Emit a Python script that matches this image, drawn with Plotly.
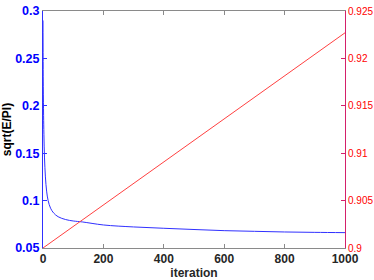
import plotly.graph_objects as go

# values
iters_blue = [0, 1, 2, 3, 5, 8, 12, 17, 25, 35, 50, 75, 100, 130, 200, 300,
              400, 500, 600, 700, 800, 900, 1000]
sqrt_e_pi = [0.29, 0.22, 0.19, 0.17, 0.145, 0.125, 0.11, 0.1, 0.092, 0.087,
             0.083, 0.08, 0.0785, 0.0775, 0.0743, 0.0722, 0.0708, 0.0695,
             0.0683, 0.0676, 0.0669, 0.0665, 0.0662]
iters_red = [0, 1000]
red_vals = [0.9, 0.9227]

x_ticks = [0, 200, 400, 600, 800, 1000]
left_ticks = [0.05, 0.1, 0.15, 0.2, 0.25, 0.3]
left_labels = ["0.05", "0.1", "0.15", "0.2", "0.25", "0.3"]
right_ticks = [0.9, 0.905, 0.91, 0.915, 0.92, 0.925]
right_labels = ["0.9", "0.905", "0.91", "0.915", "0.92", "0.925"]

fig = go.Figure()
fig.add_trace(go.Scatter(x=iters_blue, y=sqrt_e_pi, mode="lines",
                         line=dict(color="#3030ff", width=1), line_shape="spline"))
fig.add_trace(go.Scatter(x=iters_red, y=red_vals, mode="lines", yaxis="y2",
                         line=dict(color="#ff4040", width=1)))

fig.update_layout(
    width=374, height=280,
    margin=dict(l=43, r=29, t=11, b=32),
    plot_bgcolor="white", paper_bgcolor="white",
    showlegend=False,
    font=dict(family="Liberation Sans, Arial", color="#262626"),
    xaxis=dict(
        range=[0, 1000], tickvals=x_ticks,
        ticktext=["<b>%d</b>" % t for t in x_ticks],
        ticks="inside", ticklen=4, automargin=False,
        tickcolor="#8a8a8a", showline=True, linecolor="#8a8a8a", mirror="ticks",
        showgrid=False, zeroline=False,
        tickfont=dict(size=12, color="#262626"),
        title=dict(text="<b>iteration</b>", standoff=4,
                   font=dict(size=12, color="#262626")),
    ),
    yaxis=dict(
        range=[0.05, 0.3], tickvals=left_ticks,
        ticktext=["<b>%s</b>" % t for t in left_labels],
        ticks="inside", ticklen=4, tickcolor="#3030ff", automargin=False,
        showline=True, linecolor="#3030ff", showgrid=False, zeroline=False,
        tickfont=dict(size=12.5, color="#0000ff"),
        title=dict(text="<b>sqrt(E/PI)</b>", standoff=6,
                   font=dict(size=12, color="#000000")),
    ),
    yaxis2=dict(
        range=[0.9, 0.925], tickvals=right_ticks, ticktext=right_labels,
        overlaying="y", side="right", anchor="x", automargin=False,
        ticks="inside", ticklen=4, tickcolor="#d4206a",
        showline=True, linecolor="#d4206a", showgrid=False, zeroline=False,
        tickfont=dict(size=10, color="#ff0000"),
    ),
)

# page body has an 8px default margin; drop it so the figure sits at 0,0
fig.write_html("out.html", config={"displayModeBar": False},
               post_script="document.body.style.margin='0';")
